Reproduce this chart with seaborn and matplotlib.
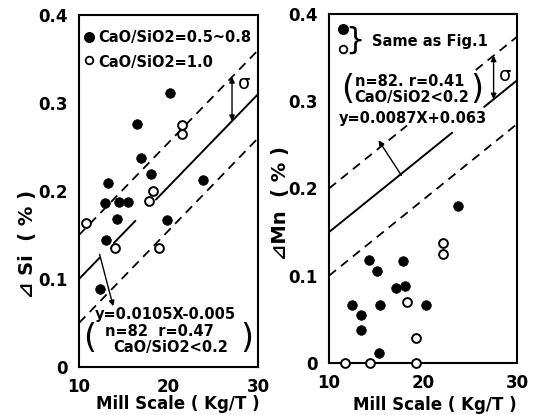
import numpy as np
import matplotlib
matplotlib.use("Agg")
import matplotlib.pyplot as plt
import seaborn as sns

# dSi panel (left)
si_fill_x = [20.2, 16.5, 16.9, 18.0, 23.9, 13.2, 12.9, 14.5, 15.5, 14.2, 19.8, 13.0, 12.3]
si_fill_y = [0.311, 0.276, 0.238, 0.219, 0.213, 0.209, 0.186, 0.188, 0.188, 0.168, 0.167, 0.144, 0.089]
si_open_x = [21.5, 21.5, 18.3, 17.8, 10.8, 14.0, 18.9]
si_open_y = [0.275, 0.265, 0.200, 0.189, 0.164, 0.135, 0.135]

# dMn panel (right)
mn_fill_x = [23.7, 14.2, 17.9, 15.1, 17.1, 18.1, 12.4, 15.4, 20.3, 13.4, 13.4, 15.3]
mn_fill_y = [0.180, 0.118, 0.117, 0.105, 0.086, 0.088, 0.067, 0.066, 0.067, 0.055, 0.038, 0.011]
mn_open_x = [22.1, 22.1, 18.3, 19.2, 11.7, 14.4, 19.3]
mn_open_y = [0.137, 0.125, 0.070, 0.029, 0.0, 0.0, 0.0]

# regression lines  y = a*X + b, band +-sigma
si_fit = (0.0105, -0.005)
mn_fit = (0.0087, 0.063)
sigma = 0.05

# x ranges where each line is drawn (gaps around points/labels)
si_solid = [(10, 12.3), (13.9, 16.3), (18.6, 30)]
si_upper = [(10, 30)]
si_lower = [(10, 30)]
mn_solid = [(10, 23.1), (26.5, 30)]
mn_upper = [(10, 18.3), (25.6, 30)]
mn_lower = [(10, 30)]

xticks = [10, 20, 30]
yticks = [0, 0.1, 0.2, 0.3, 0.4]
ytick_labels = ['0', '0.1', '0.2', '0.3', '0.4']

sns.set_style("white")
plt.rcParams['font.family'] = ['DejaVu Sans']
plt.rcParams['font.weight'] = 'bold'
plt.rcParams['axes.labelweight'] = 'bold'
for k in ['text.color', 'axes.labelcolor', 'xtick.color', 'ytick.color']:
    plt.rcParams[k] = 'black'


def draw_fit(ax, fit, solid, upper, lower):
    a, b = fit
    for x0, x1 in solid:
        xs = np.array([x0, x1])
        ax.plot(xs, a * xs + b, color='black', lw=1.4, zorder=2)
    for x0, x1 in upper:
        xs = np.array([x0, x1])
        ax.plot(xs, a * xs + b + sigma, color='black', lw=1.3, ls=(0, (5, 3.5)), zorder=2)
    for x0, x1 in lower:
        xs = np.array([x0, x1])
        ax.plot(xs, a * xs + b - sigma, color='black', lw=1.3, ls=(0, (5, 3.5)), zorder=2)


def draw_points(ax, fx, fy, ox, oy):
    sns.scatterplot(x=fx, y=fy, ax=ax, color='black', s=48, edgecolor='black',
                    linewidth=0.5, zorder=3, legend=False, clip_on=False)
    sns.scatterplot(x=ox, y=oy, ax=ax, facecolor='white', edgecolor='black',
                    s=40, linewidth=1.4, zorder=3, legend=False, clip_on=False)


def style_axes(ax):
    ax.set_xlim(10, 30)
    ax.set_ylim(0, 0.4)
    ax.set_xticks(xticks)
    ax.set_yticks(yticks, labels=ytick_labels)
    ax.tick_params(direction='in', length=7, width=1.2, labelsize=12, pad=8)
    for s in ax.spines.values():
        s.set_linewidth(1.5)
        s.set_color('black')


def sigma_arrow(ax, fit, x, lx, ly):
    a, b = fit
    yc = a * x + b
    ax.annotate('', xy=(x, yc + sigma), xytext=(x, yc),
                arrowprops=dict(arrowstyle='<|-|>', lw=1.0, color='black',
                                mutation_scale=8, shrinkA=0, shrinkB=0))
    ax.text(lx, ly, 'σ', fontsize=14, ha='center', va='center', fontweight='normal')


fig = plt.figure(figsize=(5.39, 4.15), dpi=100)
ax1 = fig.add_axes([0.1466, 0.1157, 0.332, 0.848])
ax2 = fig.add_axes([0.6104, 0.1253, 0.349, 0.841])

# left panel
draw_fit(ax1, si_fit, si_solid, si_upper, si_lower)
draw_points(ax1, si_fill_x, si_fill_y, si_open_x, si_open_y)
style_axes(ax1)
sigma_arrow(ax1, si_fit, 27.1, 28.4, 0.322)
ax1.set_xlabel('Mill Scale ( Kg/T )', fontsize=12)
ax1.xaxis.set_label_coords(0.55, -0.08)
ax1.set_ylabel('⊿ Si  ( % )', fontsize=14)
ax1.yaxis.set_label_coords(-0.235, 0.35)

ax1.scatter([11.1], [0.375], s=48, color='black', zorder=3)
ax1.scatter([11.1], [0.349], s=30, facecolor='white', edgecolor='black', lw=1.3, zorder=3)
ax1.text(0.105, 0.935, 'CaO/SiO2=0.5~0.8', transform=ax1.transAxes, fontsize=10.5, va='center')
ax1.text(0.105, 0.866, 'CaO/SiO2=1.0', transform=ax1.transAxes, fontsize=10.5, va='center')

ax1.text(0.48, 0.148, 'y=0.0105X-0.005', transform=ax1.transAxes, fontsize=10.5,
         ha='center', va='center')
ax1.text(0.061, 0.08, '(', transform=ax1.transAxes, fontsize=24, ha='center', va='center',
         fontweight='normal')
ax1.text(0.94, 0.08, ')', transform=ax1.transAxes, fontsize=24, ha='center', va='center',
         fontweight='normal')
ax1.text(0.45, 0.10, 'n=82  r=0.47', transform=ax1.transAxes, fontsize=10.5, ha='center', va='center')
ax1.text(0.51, 0.056, 'CaO/SiO2<0.2', transform=ax1.transAxes, fontsize=10.5, ha='center', va='center')
ax1.annotate('', xy=(13.9, 0.066), xytext=(12.3, 0.128),
             arrowprops=dict(arrowstyle='-|>', lw=1.0, color='black', mutation_scale=8, shrinkA=0))

# right panel
draw_fit(ax2, mn_fit, mn_solid, mn_upper, mn_lower)
draw_points(ax2, mn_fill_x, mn_fill_y, mn_open_x, mn_open_y)
style_axes(ax2)
sigma_arrow(ax2, mn_fit, 27.5, 28.7, 0.33)
ax2.set_xlabel('Mill Scale ( Kg/T )', fontsize=12)
ax2.xaxis.set_label_coords(0.56, -0.095)
ax2.set_ylabel('⊿Mn  ( % )', fontsize=14)
ax2.yaxis.set_label_coords(-0.207, 0.458)

ax2.scatter([11.5], [0.383], s=48, color='black', zorder=3)
ax2.scatter([11.5], [0.360], s=30, facecolor='white', edgecolor='black', lw=1.3, zorder=3)
ax2.text(0.138, 0.925, '}', transform=ax2.transAxes, fontsize=22, ha='center', va='center',
         fontweight='normal')
ax2.text(0.229, 0.92, 'Same as Fig.1', transform=ax2.transAxes, fontsize=10.5, va='center')

ax2.text(0.10, 0.784, '(', transform=ax2.transAxes, fontsize=24, ha='center', va='center',
         fontweight='normal')
ax2.text(0.787, 0.784, ')', transform=ax2.transAxes, fontsize=24, ha='center', va='center',
         fontweight='normal')
ax2.text(0.43, 0.806, 'n=82. r=0.41', transform=ax2.transAxes, fontsize=10.5, ha='center', va='center')
ax2.text(0.44, 0.761, 'CaO/SiO2<0.2', transform=ax2.transAxes, fontsize=10.5, ha='center', va='center')
ax2.text(0.447, 0.701, 'y=0.0087X+0.063', transform=ax2.transAxes, fontsize=10.5, ha='center', va='center')
ax2.annotate('', xy=(15.1, 0.258), xytext=(17.7, 0.215),
             arrowprops=dict(arrowstyle='-|>', lw=1.0, color='black', mutation_scale=8, shrinkA=0))

fig.savefig('out.png', dpi=100)
